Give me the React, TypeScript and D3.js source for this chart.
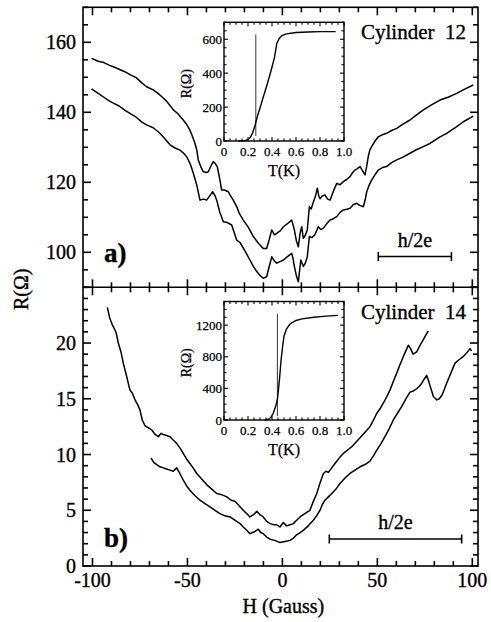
import React from "react";
import * as d3 from "d3";

// ---------- DATA ----------
// Panel a) Cylinder 12 (upper and lower traces)
const aUpperH = [-100.5,-97,-94,-91,-89,-86,-83,-80,-77,-74,-71.5,-68,-65,-63.6,-61,-59,-57.4,-55,-52.2,-50.5,-48.7,-47.5,-46,-45,-44.3,-43,-41.6,-40,-39,-37.5,-36.4,-35.3,-34.3,-33,-32,-30.5,-28.5,-27.6,-25.9,-24,-22.7,-20.6,-18,-15.3,-12.5,-10.1,-8.3,-7,-5.6,-4.2,-3,-1,0.5,2.5,4.9,5.8,6.3,7.4,8.4,9.3,10.2,11,12,13.1,14.2,15.2,16.3,17.4,18.4,19.2,19.8,21,22.4,23.8,25.1,26.8,28.6,30.4,32.1,33.8,35.6,37,38.2,39.5,40.9,42.3,43.5,44.4,45.2,46,47,48.8,50.5,52.7,54.9,57.5,60.2,63.5,67.2,70.5,74.2,78.5,83,87.2,91.8,96,100.5];
const aUpperR = [155.4,154.6,154.2,153.4,153.0,152.3,151.6,150.7,149.9,148.4,147.3,146.4,145.2,144.5,143.2,141.8,140.7,139.6,137.8,136.6,134.9,133.3,131.1,129.0,126.4,124.5,123.0,122.8,123.0,124.8,125.9,125.3,124.5,121,117.8,117.8,117.3,116.4,114.9,113.0,111.1,109.2,107.2,104.5,102.5,101.1,101.1,103.5,106.4,105.0,105.4,106.2,107.3,108.1,109.2,107.5,106.4,103.2,101.6,105.4,107.3,104,104.8,106.4,113,112.4,114.4,116,118.3,116,115.3,116.1,116.4,115.2,114.9,117.4,119.7,119.3,120.2,120.8,121.6,122.8,123.5,123.9,124.5,123.2,122.1,124.6,127.3,129.2,130.2,131.8,133,133.6,134,134.8,135.4,136.6,137.8,139.2,140.7,142.1,143.5,144.3,145.4,146.6,147.8];
const aLowerH = [-100.5,-97,-94,-91,-89,-86,-83,-80.3,-77,-74,-71.5,-68,-64.5,-62,-59.2,-56.5,-53.9,-52,-50.4,-48.5,-46.9,-45,-43.4,-41.5,-39.9,-38.2,-36.7,-35.5,-34.6,-33,-31.1,-29,-26.7,-25.3,-24.1,-22.3,-19.5,-17.1,-15.3,-13.5,-11.8,-10.1,-8.3,-7,-5.6,-4.2,-3,-1,0.5,2.5,4.9,5.6,6.3,7.4,8.4,9.7,11,12,13.1,14.2,15.5,17.1,18.9,20.2,21.6,23.4,25.1,26.8,28.6,30.4,32.1,34,35.6,37.3,39.1,40.8,42.6,43.6,44.4,45.7,47,48.8,50.5,52.7,54.9,57.5,60.2,63.5,67.2,70.5,74.2,77.7,83,86.5,91.8,95.3,100.5];
const aLowerR = [146.7,145.4,144.3,143.2,142.6,141.8,140.6,139.7,138.6,137.2,136.4,135.6,134.0,132.5,130.7,129.8,129.2,128.3,127.3,125.2,122.6,119,114.9,115.2,114.9,116.2,117.3,116.2,114.9,111.5,108.7,108.5,107.8,105.5,103.5,102.8,100.2,97.8,96.0,94.5,93.4,92.6,93,95.8,98.7,97.5,96.9,97.4,97.8,98.7,99.7,98.2,96,93.2,91.6,97.8,96,96.8,98.7,104.5,104.2,105,107.3,106.5,106.9,108.2,109.2,109.6,110.2,111.4,112.1,112.3,112.6,113.6,114,113.4,113,115,117.3,119.2,120.6,122.2,123.5,124.2,124.5,125.6,126.4,127.2,128.3,129.3,130.2,131.1,133,134,135.9,137.3,138.9];

// Panel b) Cylinder 14
const bUpperH = [-92.2,-91,-89.5,-88.5,-87.5,-86.4,-85,-83.8,-82,-80.3,-79,-77.6,-76.3,-75,-73.8,-72.4,-70.5,-68.8,-67,-65.3,-64,-62.7,-61,-59.2,-57.5,-55.7,-54,-52.2,-50.5,-48.7,-47,-45.1,-42.5,-39.9,-37.2,-34.6,-32,-29.3,-27,-25,-22.8,-20.6,-18.8,-17.1,-15.2,-13.5,-11.8,-10.1,-8.3,-6.5,-4.5,-3,-1.3,0.5,2.2,4,5.8,7.5,9.3,11,12.8,14.5,16.3,18.1,19.9,21.6,23,24.2,26,27.7,30,32.1,34.3,36.5,38.7,40.9,43.5,46.1,48,49.7,51.4,53.1,55,56.7,58.5,60.2,62,63.7,65,66.3,67.5,68.8,70.7,72.5,74.2,75.5,76.8];
const bUpperR = [23.2,22.3,21.6,21.3,20.9,20.0,19.2,18.2,17.0,15.8,15.5,14.9,14.5,14.0,13.1,12.6,12.4,12.2,11.8,11.6,11.9,11.8,11.7,11.6,11.3,11.0,10.6,10.1,9.6,9.2,8.8,8.3,7.8,7.3,6.9,6.5,6.4,6.2,5.9,5.8,5.4,5.0,4.7,4.4,4.6,4.9,4.6,4.4,4.0,3.8,3.7,3.7,3.5,3.9,3.6,3.7,3.8,4.1,4.4,4.6,4.8,5.0,5.8,6.5,7.5,8.3,8.5,8.4,8.8,9.2,9.7,10.1,10.4,10.7,11.1,11.5,12.0,12.5,13.1,13.7,14.1,14.6,15.2,15.8,16.6,17.3,18.1,18.8,19.3,19.8,19.5,19.0,19.2,19.8,20.3,20.7,21.1];
const bLowerH = [-69.2,-67.8,-66.2,-64.5,-62.7,-61,-59.2,-57.5,-55.7,-54,-52.2,-50.5,-48.7,-46,-43.4,-40.8,-38.1,-35.5,-32.9,-30.3,-27.6,-25.8,-24.1,-22.3,-20.6,-18.8,-17.1,-15.8,-14.4,-12.7,-11.4,-10.1,-8.3,-6.5,-4,-1.3,1.3,4,5.8,7.5,9.3,11,13.6,16.3,18,19.8,21,22.4,24.2,26,28.2,30.3,33,35.6,38.2,40.9,43.5,46.1,48,49.7,52,54,56.2,58.4,60.6,62.8,65,67.2,69,70.7,72,73.4,74.8,76,77,77.7,78.6,79.5,81.3,82.6,83.9,85.2,86.5,88.7,90.9,93,95.3,97,98.8,99.6];
const bLowerR = [9.7,9.3,9.1,8.9,8.8,8.7,8.6,8.5,8.8,8.3,7.7,7.2,6.8,6.3,5.9,5.6,5.3,5.0,4.7,4.5,4.4,4.2,4.0,3.8,3.5,3.2,2.9,3.0,3.1,3.3,3.0,2.9,2.6,2.4,2.3,2.1,2.2,2.3,2.5,2.8,3.0,3.2,3.6,4.1,4.5,5.0,5.5,5.9,6.2,6.5,6.9,7.4,7.9,8.3,8.6,8.9,9.1,9.4,9.9,10.4,11.0,11.6,12.3,13.1,13.7,14.3,15.0,15.6,15.7,15.9,16.1,16.4,16.8,17.1,16.6,16.2,15.7,15.2,14.9,15.0,15.3,15.8,16.4,17.3,18.2,18.5,18.8,19.1,19.5,19.3];

// Insets: R(T)
const insetATemp = [0.12,0.15,0.18,0.2,0.22,0.24,0.26,0.28,0.3,0.33,0.36,0.39,0.42,0.44,0.46,0.48,0.52,0.6,0.7,0.8,0.93];
const insetARes = [0,1,3,8,22,50,95,150,195,265,335,410,490,575,605,620,632,640,643,645,645];
const insetAMarkT = 0.265;
const insetAMarkR = [30, 628];
const insetBTemp = [0.34,0.37,0.39,0.41,0.43,0.445,0.455,0.465,0.475,0.49,0.5,0.52,0.55,0.6,0.65,0.75,0.85,0.95];
const insetBRes = [0,10,30,85,170,260,400,560,750,950,1060,1150,1215,1260,1280,1300,1315,1325];
const insetBMarkT = 0.445;
const insetBMarkR = [50, 1345];

// Tick labels
const xTickLabels = [-100, -50, 0, 50, 100];
const aYTickLabels = [100, 120, 140, 160];
const bYTickLabels = [0, 5, 10, 15, 20];
const insetXTickLabels = [0, 0.2, 0.4, 0.6, 0.8, 1.0];
const insetAYTickLabels = [0, 200, 400, 600];
const insetBYTickLabels = [0, 400, 800, 1200];

// h/2e scale bars (Gauss)
const hBarA = [50.5, 89];
const hBarB = [24.7, 94.4];

// ---------- LAYOUT ----------
const W = 491, HGT = 622;
const L = 83, R = 478, T = 7.3, MID = 287.3, B = 566;
const FONT = "'Liberation Serif', 'Times New Roman', serif";
const TXT_STROKE = 0.35;

const x = d3.scaleLinear().domain([-105, 103]).range([L, R]);
const yA = d3.scaleLinear().domain([90, 170]).range([MID, T]);
const yB = d3.scaleLinear().domain([0, 25]).range([B, MID]);

const xMinor = d3.range(-100, 101, 10);
const yAMinor = d3.range(90, 171, 5);
const yBMinor = d3.range(0, 26, 1);

function Trace({ hs, rs, ys }: { hs: number[]; rs: number[]; ys: any }) {
  const pts = hs.map((h, i) => [h, rs[i]] as [number, number]);
  const line = d3.line<[number, number]>().x((d) => x(d[0])).y((d) => ys(d[1]));
  return <path d={line(pts) || ""} fill="none" stroke="#000" strokeWidth={1.5} strokeLinejoin="round" />;
}

function Inset({ x0, x1, y0, y1, ymax, temps, res, markT, markR, yLabels, yMinorStep, yMajorStep }: any) {
  const sx = d3.scaleLinear().domain([0, 1]).range([x0, x1]);
  const sy = d3.scaleLinear().domain([0, ymax]).range([y1, y0]);
  const line = d3.line<[number, number]>().x((d) => sx(d[0])).y((d) => sy(d[1]));
  const pts = temps.map((t: number, i: number) => [t, res[i]] as [number, number]);
  const xm = d3.range(0, 21).map((i) => i * 0.05);
  const ym = d3.range(0, ymax + 1, yMinorStep);
  const els: any[] = [];
  xm.forEach((t, i) => {
    const len = i % 4 === 0 ? 4 : 2.5;
    els.push(<line key={"xb" + i} x1={sx(t)} x2={sx(t)} y1={y1} y2={y1 - len} />);
    els.push(<line key={"xt" + i} x1={sx(t)} x2={sx(t)} y1={y0} y2={y0 + len} />);
  });
  ym.forEach((v, i) => {
    const len = v % yMajorStep === 0 ? 4 : 2.5;
    els.push(<line key={"yl" + i} x1={x0} x2={x0 + len} y1={sy(v)} y2={sy(v)} />);
    els.push(<line key={"yr" + i} x1={x1} x2={x1 - len} y1={sy(v)} y2={sy(v)} />);
  });
  return (
    <g>
      <rect x={x0} y={y0} width={x1 - x0} height={y1 - y0} fill="#fff" stroke="#000" strokeWidth={1.4} />
      <g stroke="#000" strokeWidth={1.1}>{els}</g>
      <path d={line(pts) || ""} fill="none" stroke="#000" strokeWidth={1.4} />
      <line x1={sx(markT)} x2={sx(markT)} y1={sy(markR[0])} y2={sy(markR[1])} stroke="#000" strokeWidth={0.8} />
      <g fontFamily={FONT} fontSize={13} fill="#000" stroke="#000" strokeWidth={0.25}>
        {insetXTickLabels.map((t) => (
          <text key={"xl" + t} x={sx(t)} y={y1 + 15} textAnchor="middle">{t === 0 ? "0" : t.toFixed(1)}</text>
        ))}
        {yLabels.map((v: number) => (
          <text key={"yl" + v} x={x0 - 2} y={sy(v)} dy="0.35em" textAnchor="end">{v}</text>
        ))}
        <text x={(x0 + x1) / 2} y={y1 + 35} textAnchor="middle" fontSize={16}>T(K)</text>
        <text transform={`translate(${x0 - 33},${(y0 + y1) / 2 + 2}) rotate(-90)`} textAnchor="middle" fontSize={14}>R(Ω)</text>
      </g>
    </g>
  );
}

function ScaleBar({ hs, y, label }: { hs: number[]; y: number; label: string }) {
  const a = x(hs[0]), b = x(hs[1]);
  return (
    <g stroke="#000" strokeWidth={1.6}>
      <line x1={a} x2={b} y1={y} y2={y} />
      <line x1={a} x2={a} y1={y - 4.5} y2={y + 4.5} />
      <line x1={b} x2={b} y1={y - 4.5} y2={y + 4.5} />
      <text x={(a + b) / 2} y={y - 10} textAnchor="middle" fontFamily={FONT} fontSize={20} strokeWidth={TXT_STROKE} fill="#000">{label}</text>
    </g>
  );
}

export default function App() {
  const ticks: any[] = [];
  xMinor.forEach((h) => {
    const len = h % 50 === 0 ? 8 : 5;
    const px = x(h);
    ticks.push(<line key={"t" + h} x1={px} x2={px} y1={T} y2={T + len} />);
    ticks.push(<line key={"m" + h} x1={px} x2={px} y1={MID - len} y2={MID + len} />);
    ticks.push(<line key={"b" + h} x1={px} x2={px} y1={B} y2={B - len} />);
  });
  yAMinor.forEach((v) => {
    const len = v % 20 === 0 ? 8 : 5;
    const py = yA(v);
    ticks.push(<line key={"al" + v} x1={L} x2={L + len} y1={py} y2={py} />);
    ticks.push(<line key={"ar" + v} x1={R} x2={R - len} y1={py} y2={py} />);
  });
  yBMinor.forEach((v) => {
    const len = v % 5 === 0 ? 8 : 5;
    const py = yB(v);
    ticks.push(<line key={"bl" + v} x1={L} x2={L + len} y1={py} y2={py} />);
    ticks.push(<line key={"br" + v} x1={R} x2={R - len} y1={py} y2={py} />);
  });

  return (
    <svg width={W} height={HGT} style={{ position: "absolute", left: 0, top: 0, background: "#fff" }}>
      <rect x={0} y={0} width={W} height={HGT} fill="#fff" />
      <Trace hs={aUpperH} rs={aUpperR} ys={yA} />
      <Trace hs={aLowerH} rs={aLowerR} ys={yA} />
      <Trace hs={bUpperH} rs={bUpperR} ys={yB} />
      <Trace hs={bLowerH} rs={bLowerR} ys={yB} />

      <g stroke="#000" strokeWidth={1.6} fill="none">
        <rect x={L} y={T} width={R - L} height={B - T} />
        <line x1={L} x2={R} y1={MID} y2={MID} />
        {ticks}
      </g>

      <Inset x0={224} x1={344} y0={yA(170) + 15} y1={141} ymax={700} temps={insetATemp} res={insetARes}
        markT={insetAMarkT} markR={insetAMarkR} yLabels={insetAYTickLabels} yMinorStep={50} yMajorStep={200} />
      <Inset x0={224} x1={344} y0={301.5} y1={420} ymax={1500} temps={insetBTemp} res={insetBRes}
        markT={insetBMarkT} markR={insetBMarkR} yLabels={insetBYTickLabels} yMinorStep={100} yMajorStep={400} />

      <g fontFamily={FONT} fontSize={20} fill="#000" stroke="#000" strokeWidth={TXT_STROKE}>
        {aYTickLabels.map((v) => (
          <text key={"ya" + v} x={L - 7} y={yA(v)} dy="0.35em" textAnchor="end">{v}</text>
        ))}
        {bYTickLabels.map((v) => (
          <text key={"yb" + v} x={L - 7} y={yB(v)} dy="0.35em" textAnchor="end">{v}</text>
        ))}
        {xTickLabels.map((h) => (
          <text key={"x" + h} x={x(h)} y={587} textAnchor="middle">{h}</text>
        ))}
        <text x={x(0) + 1} y={613} textAnchor="middle">H (Gauss)</text>
        <text transform={`translate(28,${MID + 2}) rotate(-90)`} textAnchor="middle">R(Ω)</text>
        <text x={361} y={38.5} fontSize={21} style={{ whiteSpace: "pre" }}>Cylinder  12</text>
        <text x={361} y={319} fontSize={21} style={{ whiteSpace: "pre" }}>Cylinder  14</text>
        <text x={104} y={262} fontSize={27} fontWeight="bold">a)</text>
        <text x={104} y={547} fontSize={27} fontWeight="bold">b)</text>
      </g>

      <ScaleBar hs={hBarA} y={256.5} label="h/2e" />
      <ScaleBar hs={hBarB} y={539} label="h/2e" />
    </svg>
  );
}
